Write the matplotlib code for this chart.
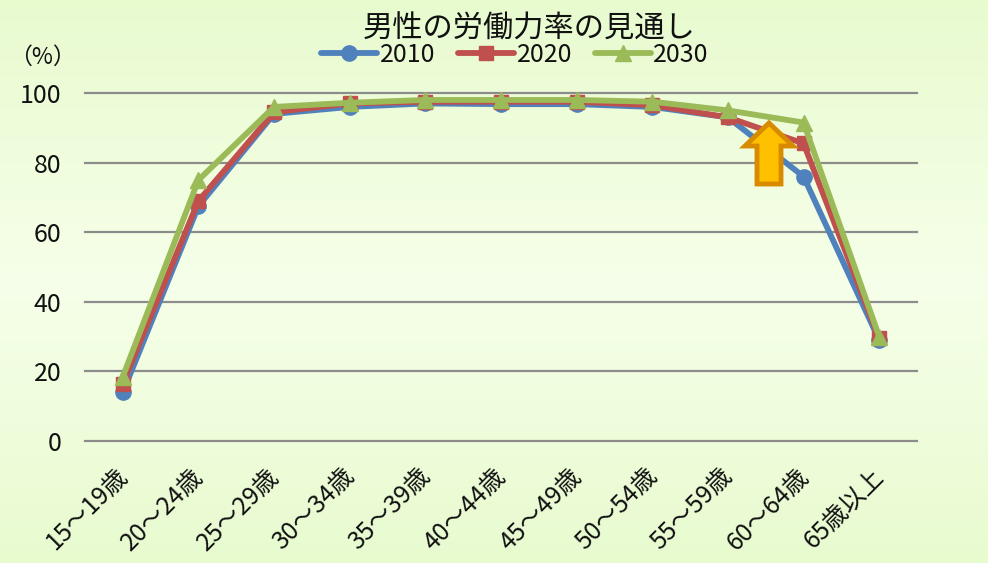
"""男性の労働力率の見通し."""

import matplotlib

matplotlib.use("Agg")
import matplotlib.pyplot as plt
from matplotlib.colors import LinearSegmentedColormap
from matplotlib.patches import Polygon
from matplotlib.transforms import ScaledTranslation
import numpy as np

plt.rcParams["font.family"] = ["Noto Sans CJK JP", "DejaVu Sans"]

AGES = ["15〜19歳", "20〜24歳", "25〜29歳", "30〜34歳", "35〜39歳", "40〜44歳",
        "45〜49歳", "50〜54歳", "55〜59歳", "60〜64歳", "65歳以上"]
Y2010 = [14.0, 67.5, 94.0, 96.0, 97.0, 96.8, 96.8, 96.0, 93.0, 76.0, 29.0]
Y2020 = [16.5, 69.0, 94.5, 97.0, 97.5, 97.5, 97.5, 96.5, 93.0, 85.5, 29.5]
Y2030 = [18.5, 75.0, 96.0, 97.2, 98.0, 98.0, 98.0, 97.5, 95.0, 91.5, 30.0]
YTICKS = [0, 20, 40, 60, 80, 100]

W, H = 988, 563

fig = plt.figure(figsize=(W / 100, H / 100), dpi=100)

# 背景のグラデーション
bg = fig.add_axes([0, 0, 1, 1], zorder=0)
cmap = LinearSegmentedColormap.from_list("bg", ["#e8fbcf", "#f6ffe9", "#e8fbcf"])
bg.imshow(np.linspace(0, 1, 256).reshape(-1, 1), cmap=cmap, aspect="auto")
bg.axis("off")

ax = fig.add_axes([85 / W, 1 - 441 / H, 832 / W, 348 / H], zorder=1)
ax.patch.set_alpha(0)
x = np.arange(len(AGES))
series = [
    ("2010", Y2010, "#4f81bd", "o", 11),
    ("2020", Y2020, "#c0504d", "s", 10.5),
    ("2030", Y2030, "#9bbb59", "^", 11),
]
for name, values, color, marker, size in series:
    ax.plot(x, values, color=color, marker=marker, markersize=size, linewidth=4.2,
            solid_capstyle="round", clip_on=False, label=name, zorder=3)

ax.set_xlim(-0.5, len(AGES) - 0.5)
ax.set_ylim(0, 100)
ax.set_yticks(YTICKS)
ax.set_xticks(x)
ax.set_xticklabels(AGES, rotation=45, ha="right", va="top", rotation_mode="anchor", fontsize=17.8, color="#111111")
ax.tick_params(axis="y", length=0, pad=17, labelsize=18, labelcolor="#111111")
ax.tick_params(axis="x", length=0, pad=16)
shift = ScaledTranslation(-8 / 100, 0, fig.dpi_scale_trans)
for label in ax.get_xticklabels():
    label.set_transform(label.get_transform() + shift)
ax.grid(axis="y", color="#8c8c8c", linewidth=1.6, clip_on=False)
ax.set_axisbelow(True)
for side in ax.spines.values():
    side.set_visible(False)

# 矢印
arrow_px = [(769, 123), (793, 146), (781, 146), (781, 184), (757, 184), (757, 146), (745, 146)]
arrow = Polygon([(px / W, 1 - py / H) for px, py in arrow_px], closed=True, transform=fig.transFigure,
                facecolor="#ffc000", edgecolor="#d98b00", linewidth=3.5, joinstyle="miter", zorder=5)
fig.add_artist(arrow)

fig.text(529 / W, 1 - 29 / H, "男性の労働力率の見通し", ha="center", va="center", fontsize=21.8, color="#111111")
fig.text(42 / W, 1 - 57 / H, "（%）", ha="center", va="center", fontsize=16.5, color="#111111")
ax.legend(loc="center", bbox_to_anchor=(515 / W, 1 - 55 / H), bbox_transform=fig.transFigure, ncol=3,
          frameon=False, fontsize=18, handlelength=2.25, handletextpad=0.1, columnspacing=0.9,
          labelcolor="#111111")

fig.savefig("out.png", dpi=100)
